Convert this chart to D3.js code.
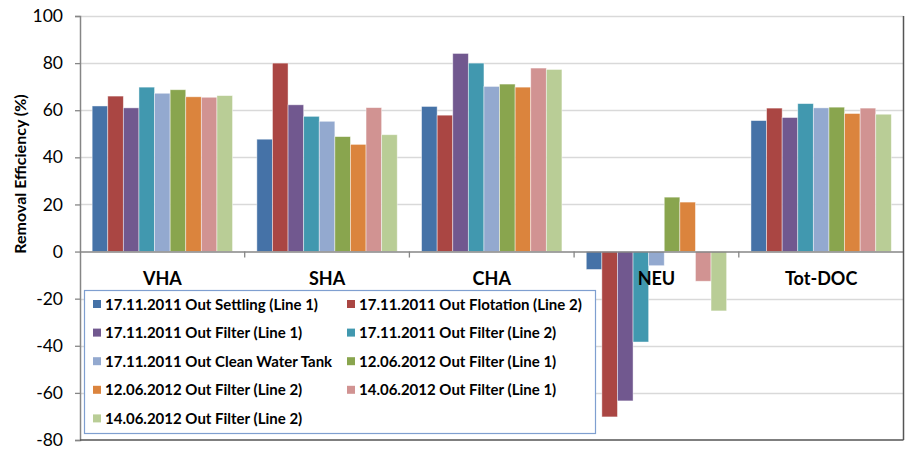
<!DOCTYPE html>
<html>
<head>
<meta charset="utf-8">
<script src="https://cdn.jsdelivr.net/npm/d3@7"></script>
<style>
  body { margin: 0; background: #fff; }
  text { font-family: Lato, "Open Sans", sans-serif; }
</style>
</head>
<body>
<div id="chart"></div>
<script>
// categories and series
var categories = ["VHA", "SHA", "CHA", "NEU", "Tot-DOC"];
var seriesNames = [
  "17.11.2011 Out Settling (Line 1)",
  "17.11.2011 Out Flotation (Line 2)",
  "17.11.2011 Out Filter (Line 1)",
  "17.11.2011 Out Filter (Line 2)",
  "17.11.2011 Out Clean Water Tank",
  "12.06.2012 Out Filter (Line 1)",
  "12.06.2012 Out Filter (Line 2)",
  "14.06.2012 Out Filter (Line 1)",
  "14.06.2012 Out Filter (Line 2)"
];
var seriesColors = ["#4572a7", "#aa4643", "#71588f", "#4198af", "#93a9cf",
                    "#89a54e", "#db843d", "#d19392", "#b9cd96"];

// one array per category, values in series order
var vhaValues    = [61.8, 66.0, 61.0, 69.8, 67.2, 68.7, 65.7, 65.5, 66.2];
var shaValues    = [47.7, 80.0, 62.3, 57.4, 55.3, 48.8, 45.5, 61.1, 49.6];
var chaValues    = [61.6, 57.9, 84.1, 80.0, 70.1, 71.1, 69.8, 77.9, 77.3];
var neuValues    = [-7.6, -70.2, -63.4, -38.4, -6.0, 23.1, 21.0, -12.6, -25.2];
var totDocValues = [55.6, 60.9, 56.9, 62.8, 61.0, 61.3, 58.6, 60.9, 58.3];
var allValues = [vhaValues, shaValues, chaValues, neuValues, totDocValues];

var yTicks = [100, 80, 60, 40, 20, 0, -20, -40, -60, -80];

var width = 907, height = 449;
var margin = { left: 80, right: 3.5, top: 16, bottom: 9 };

var svg = d3.select("#chart").append("svg")
    .attr("width", width)
    .attr("height", height);

var x = d3.scaleBand()
    .domain(categories)
    .range([margin.left, width - margin.right])
    .padding(0);

var xInner = d3.scaleBand()
    .domain(seriesNames)
    .range([0, x.bandwidth()])
    .paddingInner(0)
    .paddingOuter(0.78);

var y = d3.scaleLinear()
    .domain([-80, 100])
    .range([height - margin.bottom, margin.top]);

// gridlines
svg.append("g").selectAll("line")
    .data(yTicks.filter(function(d) { return d !== 0 && d !== -80; }))
    .enter().append("line")
    .attr("x1", margin.left)
    .attr("x2", width - margin.right)
    .attr("y1", function(d) { return Math.round(y(d)) + 0.5; })
    .attr("y2", function(d) { return Math.round(y(d)) + 0.5; })
    .attr("stroke", "#d9d9d9")
    .attr("stroke-width", 1.3);

// bars
var rows = [];
categories.forEach(function(c, i) {
  seriesNames.forEach(function(s, j) {
    rows.push({ cat: c, series: s, value: allValues[i][j], color: seriesColors[j] });
  });
});

svg.append("g").selectAll("rect")
    .data(rows)
    .enter().append("rect")
    .attr("x", function(d) { return x(d.cat) + xInner(d.series); })
    .attr("width", xInner.bandwidth())
    .attr("y", function(d) { return y(Math.max(0, d.value)); })
    .attr("height", function(d) { return Math.abs(y(d.value) - y(0)); })
    .attr("fill", function(d) { return d.color; })
    .attr("stroke", "rgba(255,255,255,0.55)")
    .attr("stroke-width", 0.8);

// y axis
var yAxis = d3.axisLeft(y)
    .tickValues(yTicks)
    .tickSize(5)
    .tickPadding(12)
    .tickFormat(function(d) { return String(d); });

var yG = svg.append("g")
    .attr("transform", "translate(" + margin.left + ",0)")
    .call(yAxis);
yG.select(".domain").attr("stroke", "#868686").attr("stroke-width", 1.5);
yG.selectAll(".tick line").attr("stroke", "#868686").attr("stroke-width", 1.3);
yG.selectAll(".tick text")
    .attr("font-size", "17.5px")
    .attr("fill", "#000")
    .style("font-family", "Lato, sans-serif");

// category axis along zero
var xAxis = d3.axisBottom(x).tickSize(0).tickFormat("");
var xG = svg.append("g")
    .attr("transform", "translate(0," + y(0) + ")")
    .call(xAxis);
xG.select(".domain").attr("stroke", "#868686").attr("stroke-width", 1.5);
xG.selectAll(".tick").remove();

// boundary ticks between categories
xG.selectAll(".btick")
    .data(categories.slice(1))
    .enter().append("line")
    .attr("class", "btick")
    .attr("x1", function(d) { return x(d); })
    .attr("x2", function(d) { return x(d); })
    .attr("y1", 0)
    .attr("y2", 6)
    .attr("stroke", "#868686")
    .attr("stroke-width", 1.3);

// category labels
svg.append("g").selectAll("text")
    .data(categories)
    .enter().append("text")
    .attr("x", function(d) { return x(d) + x.bandwidth() / 2; })
    .attr("y", y(0) + 33)
    .attr("text-anchor", "middle")
    .attr("font-size", "18px")
    .attr("font-weight", "bold")
    .text(function(d) { return d; });

// outer frame on right and bottom
svg.append("line")
    .attr("x1", width - margin.right).attr("x2", width - margin.right)
    .attr("y1", margin.top).attr("y2", y(-80))
    .attr("stroke", "#555").attr("stroke-width", 1.5);
svg.append("line")
    .attr("x1", margin.left).attr("x2", width - margin.right)
    .attr("y1", y(-80)).attr("y2", y(-80))
    .attr("stroke", "#555").attr("stroke-width", 1.5);

// y title
svg.append("text")
    .attr("transform", "translate(26,174) rotate(-90)")
    .attr("text-anchor", "middle")
    .attr("font-size", "16px")
    .attr("font-weight", "bold")
    .text("Removal Efficiency (%)");

// legend
var legend = svg.append("g");
legend.append("rect")
    .attr("x", 84.5).attr("y", 290.5)
    .attr("width", 511).attr("height", 143)
    .attr("fill", "#fff")
    .attr("stroke", "#7f9fd0")
    .attr("stroke-width", 1.2);

var items = legend.selectAll(".item")
    .data(seriesNames)
    .enter().append("g")
    .attr("class", "item")
    .attr("transform", function(d, i) {
      var col = i % 2, row = Math.floor(i / 2);
      return "translate(" + (col === 0 ? 93 : 347) + "," + (304 + row * 28.6) + ")";
    });

items.append("rect")
    .attr("x", 0).attr("y", -4)
    .attr("width", 8).attr("height", 8)
    .attr("fill", function(d, i) { return seriesColors[i]; });

items.append("text")
    .attr("x", 12)
    .attr("y", 5.5)
    .attr("font-size", "15px")
    .attr("font-weight", "bold")
    .text(function(d) { return d; });
</script>
</body>
</html>
